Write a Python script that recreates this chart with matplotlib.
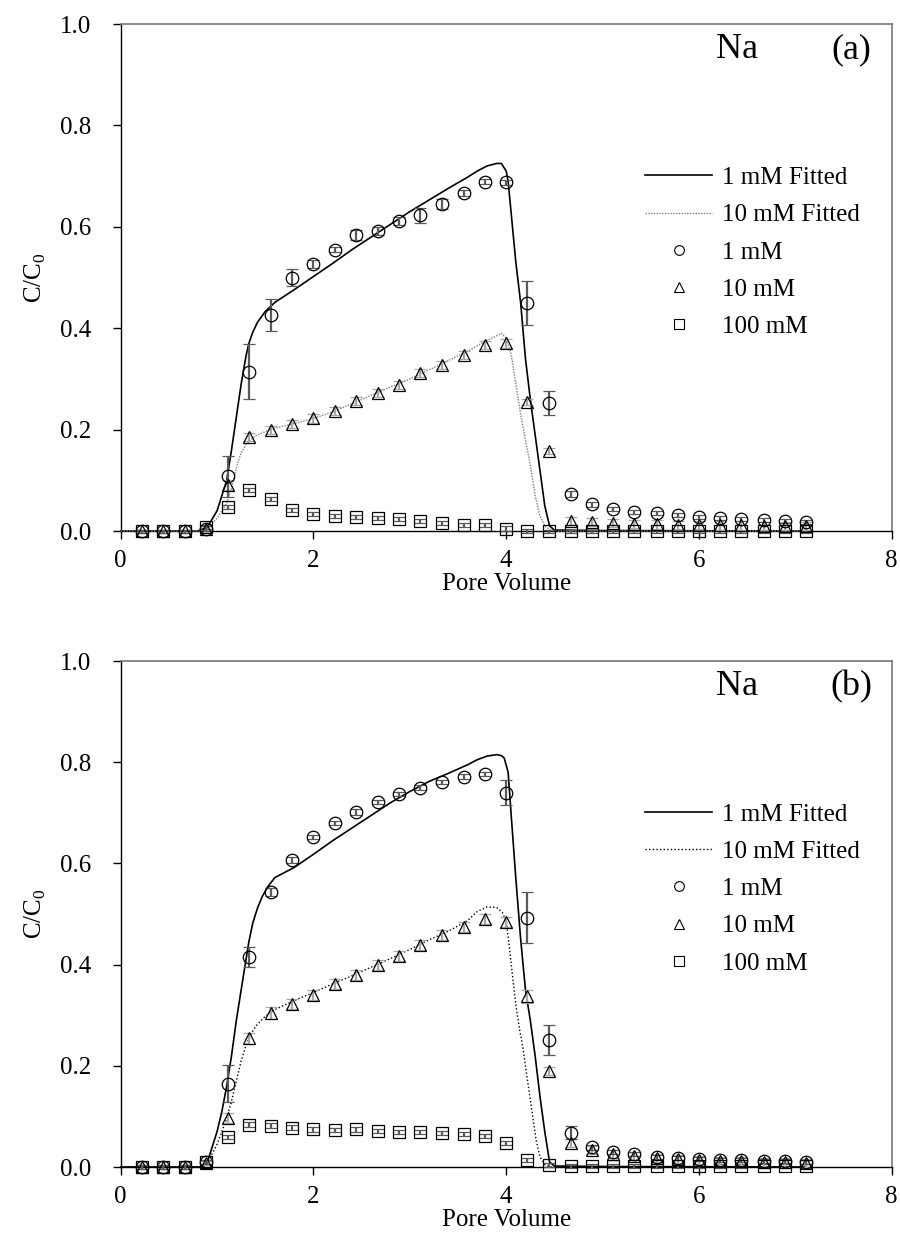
import matplotlib
matplotlib.use('Agg')
import matplotlib.pyplot as plt
from matplotlib.lines import Line2D
from matplotlib.ticker import FormatStrFormatter

plt.rcParams['font.family'] = ['Liberation Serif', 'DejaVu Serif']
plt.rcParams['mathtext.fontset'] = 'custom'
plt.rcParams['mathtext.rm'] = 'Liberation Serif'

#################################################
# Data.
pore_volume = [0.22, 0.44, 0.67, 0.89, 1.11, 1.33, 1.56, 1.78, 2.00, 2.22, 2.44,
               2.67, 2.89, 3.11, 3.33, 3.56, 3.78, 4.00, 4.22, 4.44, 4.67, 4.89,
               5.11, 5.33, 5.56, 5.78, 6.00, 6.22, 6.44, 6.67, 6.89, 7.11]

# Panel (a)
a_1mM = [0, 0, 0, 0.005, 0.108, 0.314, 0.426, 0.500, 0.527, 0.555, 0.584,
         0.592, 0.611, 0.623, 0.645, 0.666, 0.689, 0.688, 0.450, 0.252, 0.073, 0.053,
         0.044, 0.038, 0.035, 0.031, 0.028, 0.025, 0.023, 0.021, 0.019, 0.017]
a_1mM_err = [0.003, 0.003, 0.003, 0.004, 0.040, 0.054, 0.031, 0.016, 0.008, 0.005, 0.010,
             0.008, 0.008, 0.015, 0.010, 0.006, 0.005, 0.005, 0.043, 0.024, 0.006, 0.005,
             0.004, 0.004, 0.004, 0.004, 0.004, 0.004, 0.004, 0.004, 0.004, 0.004]
a_10mM = [0, 0, 0, 0.005, 0.091, 0.186, 0.200, 0.211, 0.222, 0.237, 0.256,
          0.272, 0.288, 0.311, 0.327, 0.347, 0.367, 0.370, 0.255, 0.158, 0.020, 0.018,
          0.016, 0.014, 0.013, 0.012, 0.012, 0.011, 0.011, 0.010, 0.010, 0.010]
a_10mM_err = [0.003, 0.003, 0.003, 0.004, 0.010, 0.008, 0.008, 0.008, 0.008, 0.008, 0.008,
              0.008, 0.008, 0.008, 0.008, 0.008, 0.008, 0.008, 0.006, 0.006, 0.008, 0.008,
              0.008, 0.008, 0.008, 0.008, 0.008, 0.008, 0.008, 0.008, 0.008, 0.008]
a_100mM = [0, 0, 0, 0.008, 0.048, 0.081, 0.063, 0.041, 0.034, 0.030, 0.027,
           0.026, 0.023, 0.020, 0.016, 0.012, 0.011, 0.005, 0, 0, 0, 0,
           0, 0, 0, 0, 0, 0, 0, 0, 0, 0]
a_100mM_err = [0.003, 0.003, 0.003, 0.004, 0.004, 0.004, 0.004, 0.004, 0.004, 0.004, 0.004,
               0.004, 0.004, 0.004, 0.004, 0.004, 0.004, 0.004, 0.004, 0.003, 0.003, 0.003,
               0.003, 0.003, 0.003, 0.003, 0.003, 0.003, 0.003, 0.003, 0.003, 0.003]

a_fit1_x = [0, 0.8, 0.9, 1.0, 1.05, 1.1, 1.15, 1.2, 1.25, 1.3, 1.33, 1.37, 1.42, 1.5, 1.6,
            1.8, 2.0, 2.2, 2.4, 2.6, 2.8, 3.0, 3.2, 3.4, 3.6, 3.7, 3.8, 3.9, 3.95,
            4.0, 4.02, 4.06, 4.1, 4.15, 4.2, 4.25, 4.3, 4.35, 4.4, 4.45, 4.5, 5.0, 7.1]
a_fit1_y = [0, 0, 0.008, 0.04, 0.07, 0.10, 0.16, 0.225, 0.29, 0.345, 0.37, 0.392, 0.412, 0.433, 0.451,
            0.476, 0.502, 0.528, 0.555, 0.58, 0.605, 0.63, 0.653, 0.676, 0.698, 0.71, 0.72, 0.725, 0.725,
            0.71, 0.69, 0.61, 0.53, 0.45, 0.34, 0.26, 0.19, 0.12, 0.05, 0.01, 0.002, 0.001, 0]
a_fit10_x = [0, 0.85, 0.9, 1.0, 1.1, 1.15, 1.2, 1.25, 1.3, 1.35, 1.4, 1.5, 1.6, 1.8,
             2.0, 2.2, 2.4, 2.6, 2.8, 3.0, 3.2, 3.4, 3.6, 3.8, 3.9, 3.95, 4.0, 4.05,
             4.1, 4.15, 4.2, 4.25, 4.3, 4.35, 4.4, 4.45, 4.5, 7.1]
a_fit10_y = [0, 0, 0.005, 0.025, 0.055, 0.085, 0.125, 0.155, 0.17, 0.18, 0.188, 0.196, 0.203, 0.212,
             0.222, 0.235, 0.251, 0.268, 0.284, 0.30, 0.318, 0.336, 0.355, 0.376, 0.385, 0.39, 0.38, 0.35,
             0.29, 0.23, 0.18, 0.13, 0.07, 0.03, 0.01, 0.003, 0, 0]

# Panel (b)
b_1mM = [0, 0, 0, 0.010, 0.165, 0.415, 0.544, 0.607, 0.652, 0.679, 0.701,
         0.721, 0.737, 0.750, 0.761, 0.771, 0.777, 0.740, 0.493, 0.251, 0.068, 0.039,
         0.030, 0.026, 0.020, 0.017, 0.016, 0.014, 0.013, 0.012, 0.011, 0.010]
b_1mM_err = [0.003, 0.003, 0.003, 0.004, 0.036, 0.020, 0.008, 0.006, 0.004, 0.004, 0.006,
             0.004, 0.004, 0.005, 0.004, 0.005, 0.004, 0.024, 0.050, 0.030, 0.013, 0.005,
             0.004, 0.004, 0.004, 0.004, 0.004, 0.004, 0.004, 0.004, 0.004, 0.004]
b_10mM = [0, 0, 0, 0.008, 0.097, 0.254, 0.304, 0.322, 0.340, 0.361, 0.379,
          0.399, 0.417, 0.439, 0.459, 0.475, 0.490, 0.485, 0.337, 0.190, 0.047, 0.034,
          0.025, 0.022, 0.018, 0.015, 0.013, 0.012, 0.011, 0.010, 0.009, 0.008]
b_10mM_err = [0.003, 0.003, 0.003, 0.004, 0.010, 0.010, 0.012, 0.010, 0.010, 0.010, 0.010,
              0.010, 0.010, 0.010, 0.010, 0.010, 0.010, 0.010, 0.012, 0.008, 0.008, 0.008,
              0.008, 0.008, 0.008, 0.008, 0.008, 0.008, 0.008, 0.008, 0.008, 0.008]
b_100mM = [0, 0, 0, 0.010, 0.060, 0.084, 0.082, 0.078, 0.075, 0.074, 0.075,
           0.071, 0.070, 0.070, 0.068, 0.066, 0.061, 0.048, 0.014, 0.004, 0.002, 0.002,
           0.002, 0.002, 0.002, 0.002, 0.002, 0.002, 0.002, 0.002, 0.002, 0.002]
b_100mM_err = [0.003, 0.003, 0.003, 0.004, 0.004, 0.004, 0.004, 0.005, 0.005, 0.004, 0.005,
               0.004, 0.004, 0.004, 0.004, 0.004, 0.004, 0.004, 0.004, 0.003, 0.003, 0.003,
               0.003, 0.003, 0.003, 0.003, 0.003, 0.003, 0.003, 0.003, 0.003, 0.003]

b_fit1_x = [0, 0.85, 0.9, 1.0, 1.05, 1.1, 1.15, 1.2, 1.25, 1.3, 1.33, 1.37, 1.42, 1.47, 1.53, 1.6,
            1.8, 2.0, 2.2, 2.4, 2.6, 2.8, 3.0, 3.2, 3.4, 3.6, 3.7, 3.8, 3.9, 3.95,
            3.98, 4.02, 4.05, 4.1, 4.15, 4.2, 4.25, 4.3, 4.35, 4.4, 4.45, 4.5, 5.0, 7.1]
b_fit1_y = [0, 0, 0.01, 0.07, 0.11, 0.16, 0.22, 0.29, 0.35, 0.41, 0.445, 0.482, 0.512, 0.535, 0.555, 0.572,
            0.592, 0.618, 0.645, 0.67, 0.695, 0.72, 0.742, 0.762, 0.778, 0.795, 0.805, 0.812, 0.815, 0.813,
            0.808, 0.78, 0.70, 0.57, 0.45, 0.35, 0.29, 0.22, 0.14, 0.07, 0.01, 0.002, 0.001, 0]
b_fit10_x = [0, 0.85, 0.9, 1.0, 1.05, 1.1, 1.15, 1.2, 1.25, 1.3, 1.35, 1.4, 1.5, 1.6,
             1.8, 2.0, 2.2, 2.4, 2.6, 2.8, 3.0, 3.2, 3.4, 3.6, 3.7, 3.8, 3.9, 3.96,
             4.0, 4.03, 4.07, 4.1, 4.14, 4.17, 4.21, 4.26, 4.31, 4.35, 4.4, 4.45, 7.1]
b_fit10_y = [0, 0, 0.008, 0.045, 0.07, 0.097, 0.13, 0.17, 0.21, 0.24, 0.262, 0.278, 0.298, 0.311,
             0.329, 0.345, 0.362, 0.378, 0.395, 0.412, 0.43, 0.449, 0.466, 0.487, 0.505, 0.514, 0.513, 0.503,
             0.486, 0.44, 0.37, 0.32, 0.27, 0.24, 0.186, 0.12, 0.054, 0.02, 0.005, 0, 0]

labels = ['1 mM Fitted', '10 mM Fitted', '1 mM', '10 mM', '100 mM']

#################################################
# Display.
err_dark = '#5a5a5a'
err_light = '#a8a8a8'


def draw_panel(ax, tag, c1, c1_err, c10, c10_err, c100, c100_err,
               f1x, f1y, f10x, f10y, dot_color, dot_style):
    ax.plot(f1x, f1y, color='black', lw=1.2, zorder=3, clip_on=False)
    ax.plot(f10x, f10y, color=dot_color, lw=1.0, ls=dot_style, zorder=3, clip_on=False)

    kw = dict(ls='none', markersize=9, markerfacecolor='none', markeredgecolor='black',
              markeredgewidth=0.9, capsize=4.2, elinewidth=1.6, capthick=1.6, zorder=4)
    for y, e, m, col in [(c100, c100_err, 's', err_dark),
                         (c10, c10_err, '^', err_light),
                         (c1, c1_err, 'o', err_dark)]:
        cont = ax.errorbar(pore_volume, y, yerr=e, fmt=m, ecolor=col, **kw)
        cont.lines[0].set_clip_on(False)
        for art in list(cont.lines[1]) + list(cont.lines[2]):
            art.set_clip_on(False)

    ax.set_xlim(0, 8)
    ax.set_ylim(0, 1.0)
    ax.set_xticks([0, 2, 4, 6, 8])
    ax.set_yticks([0, 0.2, 0.4, 0.6, 0.8, 1.0])
    ax.yaxis.set_major_formatter(FormatStrFormatter('%.1f'))
    ax.tick_params(direction='out', length=5.5, width=1, labelsize=18, colors='black')
    ax.tick_params(axis='x', pad=8)
    ax.tick_params(axis='y', pad=16)
    for side in ['top', 'right']:
        ax.spines[side].set_color('#777777')
        ax.spines[side].set_linewidth(1.2)
    for side in ['left', 'bottom']:
        ax.spines[side].set_linewidth(1.0)

    ax.set_xlabel('Pore Volume', fontsize=18, labelpad=1)
    ax.set_ylabel('C/C$_0$', fontsize=18, labelpad=8)

    ax.text(0.799, 0.949, 'Na', transform=ax.transAxes, fontsize=26,
            ha='center', va='center')
    ax.text(0.948, 0.949, tag, transform=ax.transAxes, fontsize=26,
            ha='center', va='center')

    handles = [Line2D([], [], color='black', lw=1.2),
               Line2D([], [], color=dot_color, lw=1.0, ls=dot_style),
               Line2D([], [], ls='none', marker='o', markersize=7, markerfacecolor='none',
                      markeredgecolor='black', markeredgewidth=0.8),
               Line2D([], [], ls='none', marker='^', markersize=7, markerfacecolor='none',
                      markeredgecolor='black', markeredgewidth=0.8),
               Line2D([], [], ls='none', marker='s', markersize=7, markerfacecolor='none',
                      markeredgecolor='black', markeredgewidth=0.8)]
    ax.legend(handles, labels, loc='upper left', bbox_to_anchor=(0.68, 0.719),
              frameon=False, fontsize=18, handlelength=2.7, handletextpad=0.4,
              labelspacing=0.59, borderpad=0, borderaxespad=0)


fig = plt.figure(figsize=(9, 12.39), dpi=100)
ax_a = fig.add_axes([0.1341, 0.5714, 0.8567, 0.4092])
ax_b = fig.add_axes([0.1341, 0.0581, 0.8567, 0.4084])

draw_panel(ax_a, '(a)', a_1mM, a_1mM_err, a_10mM, a_10mM_err, a_100mM, a_100mM_err,
           a_fit1_x, a_fit1_y, a_fit10_x, a_fit10_y, '#7f7f7f', (0, (1, 1)))
draw_panel(ax_b, '(b)', b_1mM, b_1mM_err, b_10mM, b_10mM_err, b_100mM, b_100mM_err,
           b_fit1_x, b_fit1_y, b_fit10_x, b_fit10_y, 'black', (0, (1, 1.6)))

fig.savefig('out.png', dpi=100)
